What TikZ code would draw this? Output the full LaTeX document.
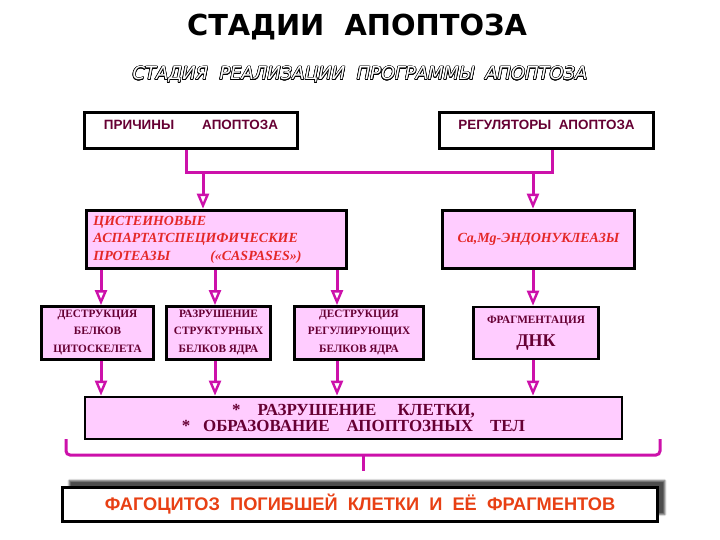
\documentclass[tikz,border=0pt]{standalone}
\usepackage{fontspec}
\setmainfont{Liberation Serif}
\setsansfont{Liberation Sans}
\newfontfamily\headfont{DejaVu Sans}
\usepackage{contour}
\usetikzlibrary{arrows.meta,shadows.blur}
\definecolor{magline}{RGB}{204,17,170}
\definecolor{boxpink}{RGB}{255,204,255}
\definecolor{maroon}{RGB}{102,0,51}
\definecolor{caspred}{RGB}{228,40,40}
\definecolor{phagred}{RGB}{232,64,20}
\contourlength{0.55bp}
\tikzset{
  whitebox/.style={draw=black, line width=2.8bp, fill=white},
  pinkbox/.style={draw=black, line width=2.8bp, fill=boxpink},
  smalltext/.style={font=\fontsize{11.3}{17.5}\selectfont\bfseries, text=maroon, align=center},
  link/.style={draw=magline, line width=3bp},
  arr/.style={link, -{Triangle[open,length=15bp,width=12bp,line width=2.4bp]}}
}

\begin{document}
\begin{tikzpicture}[x=1bp,y=-1bp]
   \useasboundingbox (0,0) rectangle (720,540);
   % titles
   \node (title) at (357,27) {\headfont\bfseries\fontsize{29}{34}\selectfont СТАДИИ\ \ АПОПТОЗА};
   \node (sub) at (360,75) {\headfont\itshape\fontsize{18}{20}\selectfont
      \contour{black}{\textcolor{white}{СТАДИЯ\ \ РЕАЛИЗАЦИИ\ \ ПРОГРАММЫ\ \ АПОПТОЗА}}};
   % top row
   \node[whitebox, minimum width=214, minimum height=36, text=maroon,
         font=\sffamily\bfseries\fontsize{13.5}{15}\selectfont, text height=9.5, text depth=10.5]
      (prich) at (191,130.5) {ПРИЧИНЫ\hspace{28bp}АПОПТОЗА};
   \node[whitebox, minimum width=215, minimum height=36, text=maroon,
         font=\sffamily\bfseries\fontsize{13.5}{15}\selectfont, text height=9.5, text depth=10.5]
      (regul) at (546.5,130.5) {РЕГУЛЯТОРЫ\ \ АПОПТОЗА};
   % enzymes
   \node[pinkbox, minimum width=261, minimum height=59, text width=247, inner xsep=7,
         align=left, text=caspred, font=\fontsize{14}{17.5}\selectfont\bfseries\itshape]
      (casp) at (216.5,239.5) {ЦИСТЕИНОВЫЕ\\АСПАРТАТСПЕЦИФИЧЕСКИЕ\\ПРОТЕАЗЫ\hspace{40bp}(«CASPASES»)};
   \node[pinkbox, minimum width=193, minimum height=59, text=caspred,
         font=\fontsize{14}{16}\selectfont\bfseries\itshape]
      (camg) at (538.5,239.5) {Ca,Mg-ЭНДОНУКЛЕАЗЫ};
   % targets
   \node[pinkbox, smalltext, minimum width=113, minimum height=52, text depth=4] (cyto) at (97.5,333)
      {ДЕСТРУКЦИЯ\\БЕЛКОВ\\ЦИТОСКЕЛЕТА};
   \node[pinkbox, smalltext, minimum width=105, minimum height=52, text depth=4] (struct) at (218.5,333)
      {РАЗРУШЕНИЕ\\СТРУКТУРНЫХ\\БЕЛКОВ ЯДРА};
   \node[pinkbox, smalltext, minimum width=130, minimum height=52, text depth=4] (regprot) at (359,333)
      {ДЕСТРУКЦИЯ\\РЕГУЛИРУЮЩИХ\\БЕЛКОВ ЯДРА};
   \node[pinkbox, smalltext, minimum width=126, minimum height=52] (frag) at (536,333)
      {ФРАГМЕНТАЦИЯ\\[6bp]{\fontsize{18}{20}\selectfont ДНК}};
   % result
   \node[pinkbox, minimum width=539, minimum height=42, text=maroon, align=center,
         font=\fontsize{17}{16.5}\selectfont\bfseries]
      (result) at (353.5,418) {*\ \ \ \ РАЗРУШЕНИЕ\ \ \ \ \ КЛЕТКИ,\\*\ \ \ ОБРАЗОВАНИЕ\ \ \ \ АПОПТОЗНЫХ\ \ \ \ ТЕЛ};
   \node[whitebox, minimum width=598, minimum height=34, text=phagred,
         font=\sffamily\bfseries\fontsize{18.3}{20}\selectfont,
         blur shadow={shadow xshift=7bp, shadow yshift=7bp, shadow opacity=70, shadow blur steps=5}]
      (phago) at (360,504.5) {ФАГОЦИТОЗ\ \ ПОГИБШЕЙ\ \ КЛЕТКИ\ \ И\ \ ЕЁ\ \ ФРАГМЕНТОВ};
   % connectors
   \coordinate (jl) at (186,173);
   \coordinate (jr) at (552,173);
   \coordinate (a1) at (203,173);
   \coordinate (a2) at (533,173);
   \draw[link] (prich.south -| jl) -- (jl) -- (jr) -- (regul.south -| jr);
   \draw[arr] (a1) -- (casp.north -| a1);
   \draw[arr] (a2) -- (camg.north -| a2);
   \coordinate (k1) at (101,0);
   \coordinate (k2) at (215,0);
   \coordinate (k3) at (337,0);
   \coordinate (k4) at (533,0);
   \draw[arr] (casp.south -| k1) -- (cyto.north -| k1);
   \draw[arr] (casp.south -| k2) -- (struct.north -| k2);
   \draw[arr] (casp.south -| k3) -- (regprot.north -| k3);
   \draw[arr] (camg.south -| k4) -- (frag.north -| k4);
   \draw[arr] (cyto.south -| k1) -- (result.north -| k1);
   \draw[arr] (struct.south -| k2) -- (result.north -| k2);
   \draw[arr] (regprot.south -| k3) -- (result.north -| k3);
   \draw[arr] (frag.south -| k4) -- (result.north -| k4);
   % brace
   \coordinate (bl) at (66,439);
   \coordinate (br) at (660,439);
   \coordinate (bm) at (363,471);
   \draw[link, rounded corners=4bp] (bl) -- (66,455) -- (660,455) -- (br);
   \draw[link] (bm |- 0,455) -- (bm);
\end{tikzpicture}
\end{document}
